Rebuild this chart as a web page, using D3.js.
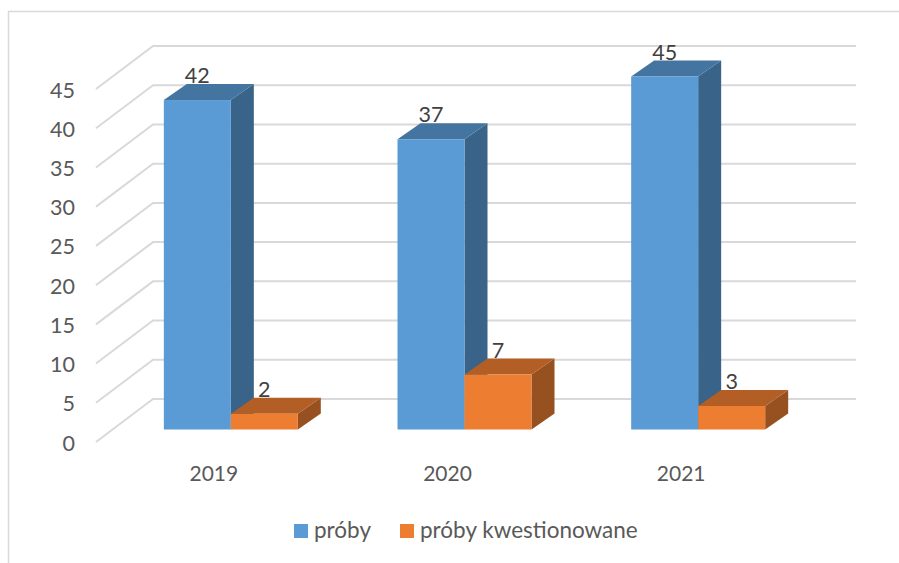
<!DOCTYPE html>
<html><head><meta charset="utf-8">
<script src="https://cdn.jsdelivr.net/npm/d3@7"></script>
<style>html,body{margin:0;background:#fff}svg{display:block}text{font-family:Lato,sans-serif}</style>
</head><body><svg id="c" width="899" height="563"></svg>
<script>
const categories = ["2019","2020","2021"];
const seriesNames = ["próby","próby kwestionowane"];
const proby = [42,37,45];
const kwestionowane = [2,7,3];
const yTicks = [0,5,10,15,20,25,30,35,40,45];
const seriesValues = [proby, kwestionowane];
const frontColors = ["#5b9bd5","#ed7d31"];
const topColors = ["#4475a1","#b25e24"];
const sideColors = ["#396388","#97501f"];

const svg = d3.select("#c");
// chart border (runs off the right and bottom of the picture)
svg.append("path").attr("d","M8.5,563V11.5H899").attr("fill","none").attr("stroke","#d9d9d9").attr("stroke-width",1.5);

const wallY = d3.scaleLinear().domain([0,45]).range([399,46]);
const barY = d3.scaleLinear().domain([0,45]).range([429.5,76.5]);
const x0 = d3.scaleBand().domain(categories).range([114,815]);
const barW = 67, dxBar = 23, dyBar = 16;
const x1 = d3.scaleBand().domain(seriesNames).range([0,barW*2]);

const g = svg.append("g");
// gridlines: back wall + side wall
g.selectAll("path.grid").data(yTicks).join("path").attr("class","grid")
  .attr("d",d=>`M96,${wallY(d)+43}L153,${wallY(d)}H856`)
  .attr("fill","none").attr("stroke","#d9d9d9").attr("stroke-width",2);

// y axis labels
g.selectAll("text.y").data(yTicks).join("text").attr("class","y")
  .attr("x",75).attr("y",d=>wallY(d)+51.5).attr("text-anchor","end")
  .attr("font-size",21.5).attr("fill","#595959").text(d=>d);

// bars
categories.forEach((cat,ci)=>{
  const cx = x0(cat)+x0.bandwidth()/2 - barW;
  seriesNames.forEach((s,si)=>{
    const v = seriesValues[si][ci];
    const l = cx + x1(s), r = l+barW, t = barY(v), b = barY(0);
    const bg = g.append("g");
    bg.append("path").attr("fill",sideColors[si])
      .attr("d",`M${r},${t}L${r+dxBar},${t-dyBar}V${b-dyBar}L${r},${b}Z`);
    bg.append("path").attr("fill",topColors[si])
      .attr("d",`M${l},${t}L${l+dxBar},${t-dyBar}H${r+dxBar}L${r},${t}Z`);
    bg.append("rect").attr("x",l).attr("y",t).attr("width",barW).attr("height",b-t).attr("fill",frontColors[si]);
    bg.append("text").attr("x",l+barW/2).attr("y",t-17).attr("text-anchor","middle")
      .attr("font-size",21.5).attr("fill","#404040").text(v);
  });
  g.append("text").attr("x",x0(cat)+x0.bandwidth()/2-17).attr("y",481).attr("text-anchor","middle")
    .attr("font-size",21).attr("fill","#595959").text(cat);
});

// legend
const legendX = [294,400];
seriesNames.forEach((s,i)=>{
  svg.append("rect").attr("x",legendX[i]).attr("y",524).attr("width",14).attr("height",14).attr("fill",frontColors[i]);
  svg.append("text").attr("x",legendX[i]+20).attr("y",537.5).attr("font-size",22.5).attr("fill","#595959").text(s);
});
</script></body></html>
